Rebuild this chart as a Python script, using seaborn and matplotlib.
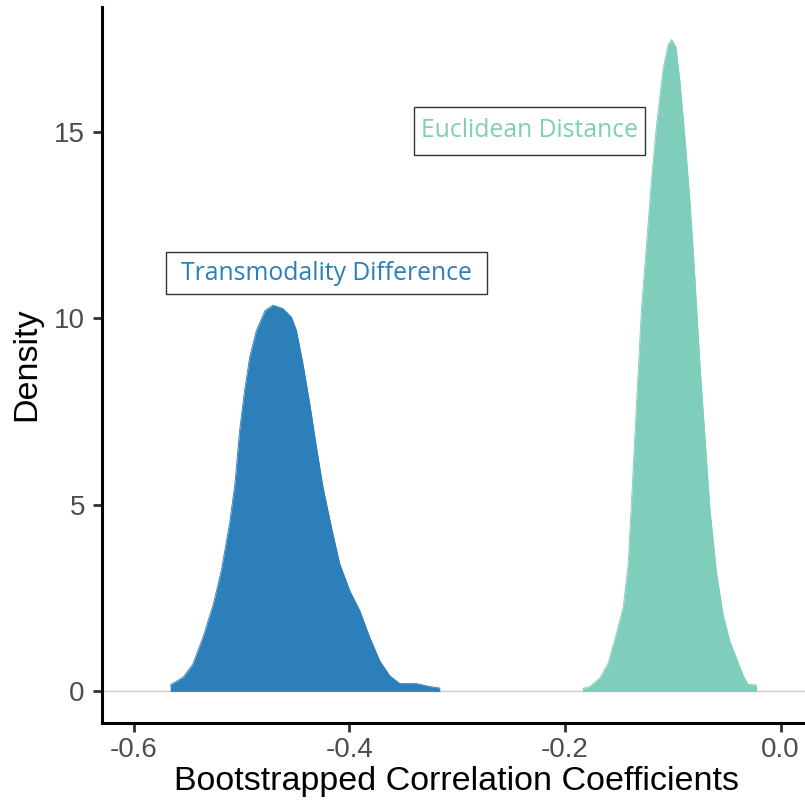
import numpy as np
import pandas as pd
import matplotlib
matplotlib.use("Agg")
import matplotlib.pyplot as plt
from matplotlib.patches import Rectangle
import seaborn as sns

# Density curve of bootstrapped coefficients: Transmodality Difference
td_x = [-0.566, -0.554, -0.545, -0.5356, -0.526, -0.5186, -0.511, -0.506, -0.5016,
        -0.497, -0.4923, -0.486, -0.478, -0.4707, -0.4614, -0.4536, -0.449, -0.4429,
        -0.4366, -0.4304, -0.4243, -0.4165, -0.4088, -0.3995, -0.3903, -0.381,
        -0.3717, -0.3624, -0.3532, -0.3377, -0.3253, -0.316]
td_y = [0.17, 0.38, 0.73, 1.45, 2.34, 3.24, 4.49, 5.56, 7.0, 8.07, 8.96, 9.68, 10.21,
        10.35, 10.26, 10.03, 9.68, 8.78, 7.71, 6.55, 5.47, 4.40, 3.42, 2.70, 2.17,
        1.45, 0.82, 0.42, 0.21, 0.21, 0.13, 0.09]

# Density curve: Euclidean Distance
ed_x = [-0.1837, -0.1769, -0.1676, -0.1599, -0.1521, -0.146, -0.1414, -0.1382,
        -0.1352, -0.1321, -0.129, -0.1243, -0.1197, -0.115, -0.1089, -0.1043,
        -0.1011, -0.0971, -0.0934, -0.0888, -0.0841, -0.0795, -0.0749, -0.0702,
        -0.0656, -0.0594, -0.0532, -0.047, -0.0408, -0.0347, -0.0301, -0.0223]
ed_y = [0.08, 0.13, 0.36, 0.76, 1.57, 2.25, 3.40, 5.12, 6.84, 8.56, 10.28, 12.0,
        13.72, 15.2, 16.7, 17.33, 17.47, 17.27, 16.35, 14.86, 13.14, 11.08, 8.79,
        6.84, 4.89, 3.17, 2.03, 1.34, 0.88, 0.42, 0.19, 0.17]

series_names = ["Transmodality Difference", "Euclidean Distance"]
series_colors = ["#2C7FB8", "#7FCDBB"]
label_pos_x = [-0.421, -0.2328]
label_pos_y = [11.21, 15.03]

x_ticks = [-0.6, -0.4, -0.2, 0.0]
x_tick_labels = ["-0.6", "-0.4", "-0.2", "0.0"]
y_ticks = [0, 5, 10, 15]
y_tick_labels = ["0", "5", "10", "15"]

df = pd.concat([
    pd.DataFrame({"x": td_x, "y": td_y, "series": series_names[0]}),
    pd.DataFrame({"x": ed_x, "y": ed_y, "series": series_names[1]}),
], ignore_index=True)

sns.set_theme(style="white")
plt.rcParams["font.family"] = ["Liberation Sans", "DejaVu Sans"]

fig = plt.figure(figsize=(8.05, 8.05), dpi=100)
ax = fig.add_axes([0.127, 0.1022, 0.873, 0.8895])

ax.axhline(0, color="#cccccc", lw=1.0, zorder=1)

palette = dict(zip(series_names, series_colors))
for name in series_names:
    sub = df[df["series"] == name]
    ax.fill_between(sub["x"], 0, sub["y"], color=palette[name], lw=0, zorder=2)
sns.lineplot(data=df, x="x", y="y", hue="series", palette=palette, sort=False,
             estimator=None, lw=0.6, legend=False, ax=ax, zorder=3)

ax.set_xlim(-0.629, 0.0226)
ax.set_ylim(-0.84, 18.35)
ax.set_xticks(x_ticks)
ax.set_xticklabels(x_tick_labels)
ax.set_yticks(y_ticks)
ax.set_yticklabels(y_tick_labels)

for s in ["top", "right"]:
    ax.spines[s].set_visible(False)
for s in ["left", "bottom"]:
    ax.spines[s].set_color("black")
    ax.spines[s].set_linewidth(2.2)

ax.tick_params(axis="both", which="major", length=6.5, width=2.0, color="#333333",
               labelsize=20, labelcolor="#4D4D4D", left=True, bottom=True)
ax.tick_params(axis="x", pad=4)
ax.tick_params(axis="y", pad=6)

ax.set_xlabel("Bootstrapped Correlation Coefficients", fontsize=24.5, color="black")
ax.set_ylabel("Density", fontsize=24.5, color="black")
ax.xaxis.set_label_coords(0.5048, -0.0814)
ax.xaxis.label.set_va("center")
ax.yaxis.set_label_coords(-0.107, 0.501)
ax.yaxis.label.set_va("center")
ax.grid(False)

texts = []
for name, lx, ly in zip(series_names, label_pos_x, label_pos_y):
    t = ax.text(lx, ly, name, color=palette[name], fontsize=17.8,
                family=["Open Sans", "DejaVu Sans"],
                ha="center", va="center", zorder=6)
    texts.append(t)

fig.canvas.draw()
renderer = fig.canvas.get_renderer()
box_padx = [15, 7]
box_h = [42, 48]
for t, padx, bh in zip(texts, box_padx, box_h):
    bb = t.get_window_extent(renderer)
    cy = (bb.y0 + bb.y1) / 2
    rect = Rectangle((bb.x0 - padx, cy - bh / 2), bb.width + 2 * padx, bh,
                     transform=None, fc="white", ec="#333333", lw=1.0, zorder=5)
    fig.add_artist(rect)
    rect.set_zorder(5)
for t in texts:
    t.remove()
    fig.add_artist(t)
    t.set_zorder(6)

fig.savefig("out.png", dpi=100)
